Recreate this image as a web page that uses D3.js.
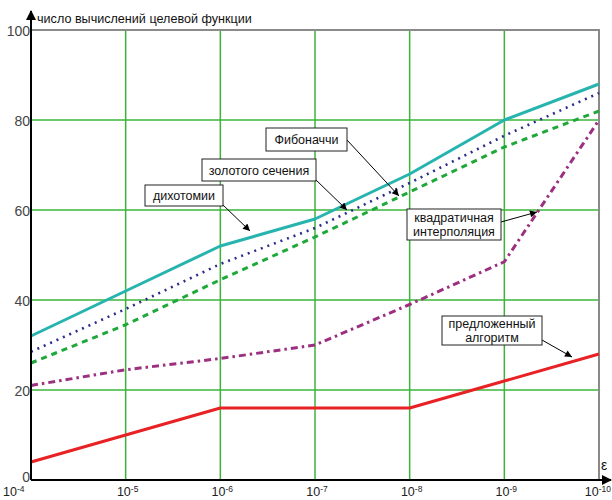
<!DOCTYPE html>
<html>
<head>
<meta charset="utf-8">
<script src="https://cdn.jsdelivr.net/npm/d3@7"></script>
<style>
  body { margin: 0; background: #fff; }
  svg { display: block; font-family: "Liberation Sans", Arial, sans-serif; }
</style>
</head>
<body>
<div id="chart"></div>
<script>
// Data (x = epsilon, 10^-4 .. 10^-10)
const exponents = ["-4", "-5", "-6", "-7", "-8", "-9", "-10"];
const yTicks = [0, 20, 40, 60, 80, 100];

const dichotomy = [32, 42, 52, 58, 68, 80, 88];
const fibonacci = [28.5, 38, 48, 56, 66, 76.5, 86];
const golden = [26, 34.5, 44.5, 54, 64, 74, 82];
const quadratic = [21, 24.5, 27, 30, 39, 48.5, 80];
const proposed = [4, 10, 16, 16, 16, 22, 28];

const series = [
  { name: "дихотомии", values: dichotomy, color: "#27b4ae", dash: null, width: 3 },
  { name: "Фибоначчи", values: fibonacci, color: "#2c2c8c", dash: "2,5", width: 2.6 },
  { name: "золотого сечения", values: golden, color: "#1fa83a", dash: "6,5", width: 3 },
  { name: "квадратичная интерполяция", values: quadratic, color: "#9c2f80", dash: "7,4,2.5,4", width: 3 },
  { name: "предложенный алгоритм", values: proposed, color: "#e82125", dash: null, width: 3 }
];

// Callout boxes (pixel layout) and arrows
const callouts = [
  { lines: ["Фибоначчи"], box: [266, 128, 81, 23], from: [347, 140], to: [399, 196] },
  { lines: ["золотого сечения"], box: [202, 159, 114, 22], from: [316, 180], to: [347, 210] },
  { lines: ["дихотомии"], box: [145, 185, 78, 21], from: [223, 205], to: [250, 231] },
  { lines: ["квадратичная", "интерполяция"], box: [407, 209, 94, 31], from: [501, 222], to: [537, 212] },
  { lines: ["предложенный", "алгоритм"], box: [442, 316, 100, 29], from: [542, 340], to: [572, 357] }
];

const W = 612, H = 500;
const plotLeft = 31, plotRight = 599, plotTop = 30, plotBottom = 480;

const svg = d3.select("#chart").append("svg")
    .attr("width", W)
    .attr("height", H);

const x = d3.scaleLinear().domain([0, exponents.length - 1]).range([plotLeft, plotRight]);
const y = d3.scaleLinear().domain([0, 100]).range([plotBottom, plotTop]);

// Grid
svg.append("g").selectAll("line")
    .data(d3.range(1, exponents.length - 1))
  .enter().append("line")
    .attr("x1", d => x(d)).attr("x2", d => x(d))
    .attr("y1", plotTop).attr("y2", plotBottom)
    .attr("stroke", "#3cb43c")
    .attr("stroke-width", 1.5);

svg.append("g").selectAll("line")
    .data(yTicks.filter(d => d > 0 && d < 100))
  .enter().append("line")
    .attr("x1", plotLeft).attr("x2", plotRight)
    .attr("y1", d => y(d)).attr("y2", d => y(d))
    .attr("stroke", "#3cb43c")
    .attr("stroke-width", 1.5);

// Grey frame top / right
svg.append("path")
    .attr("d", `M${plotLeft},${y(100)}H${plotRight}V${plotBottom}`)
    .attr("fill", "none")
    .attr("stroke", "#8a8a8a")
    .attr("stroke-width", 2);

// Arrow markers
const defs = svg.append("defs");
defs.append("marker")
    .attr("id", "axisArrow")
    .attr("viewBox", "0 0 10 10")
    .attr("refX", 9).attr("refY", 5)
    .attr("markerWidth", 5).attr("markerHeight", 5)
    .attr("markerUnits", "strokeWidth")
    .attr("orient", "auto")
  .append("path")
    .attr("d", "M0,0L10,5L0,10z")
    .attr("fill", "#000");

defs.append("marker")
    .attr("id", "calloutArrow")
    .attr("viewBox", "0 0 10 10")
    .attr("refX", 10).attr("refY", 5)
    .attr("markerWidth", 9).attr("markerHeight", 7)
    .attr("markerUnits", "userSpaceOnUse")
    .attr("orient", "auto")
  .append("path")
    .attr("d", "M0,0L10,5L0,10z")
    .attr("fill", "#000");

// Series lines
const line = d3.line()
    .x((d, i) => x(i))
    .y(d => y(d));

svg.append("g").selectAll("path")
    .data(series)
  .enter().append("path")
    .attr("d", d => line(d.values))
    .attr("fill", "none")
    .attr("stroke", d => d.color)
    .attr("stroke-width", d => d.width)
    .attr("stroke-dasharray", d => d.dash)
    .attr("stroke-linejoin", "round");

// Axes
svg.append("line")
    .attr("x1", plotLeft).attr("x2", plotLeft)
    .attr("y1", plotBottom).attr("y2", 11)
    .attr("stroke", "#000")
    .attr("stroke-width", 2)
    .attr("marker-end", "url(#axisArrow)");

svg.append("line")
    .attr("x1", plotLeft).attr("x2", 611)
    .attr("y1", plotBottom).attr("y2", plotBottom)
    .attr("stroke", "#000")
    .attr("stroke-width", 2)
    .attr("marker-end", "url(#axisArrow)");

// Y tick labels
svg.append("g").selectAll("text")
    .data(yTicks)
  .enter().append("text")
    .attr("x", plotLeft - 1)
    .attr("y", d => y(d) + (d === 0 ? -3 : 1))
    .attr("dy", "0.35em")
    .attr("text-anchor", "end")
    .attr("font-family", "'Liberation Sans Narrow', 'Arial Narrow', sans-serif")
    .attr("font-size", 14)
    .attr("fill", "#444")
    .text(d => d);

// X tick labels 10^-n (first and last kept inside the picture)
const lastIdx = exponents.length - 1;
const xl = svg.append("g").selectAll("text")
    .data(exponents)
  .enter().append("text")
    .attr("x", (d, i) => i === 0 ? 3 : i === lastIdx ? 611 : x(i) + 2)
    .attr("y", 496)
    .attr("text-anchor", (d, i) => i === 0 ? "start" : i === lastIdx ? "end" : "middle")
    .attr("font-size", 12.5)
    .attr("fill", "#222");
xl.append("tspan").text("10");
xl.append("tspan")
    .attr("dy", -4)
    .attr("font-size", 8.5)
    .text(d => d);

// Axis titles
svg.append("text")
    .attr("x", 37)
    .attr("y", 23)
    .attr("font-size", 12.6)
    .attr("fill", "#111")
    .text("число вычислений целевой функции");

svg.append("text")
    .attr("x", 601)
    .attr("y", 470)
    .attr("font-size", 14)
    .attr("fill", "#111")
    .text("ε");

// Callouts
const co = svg.append("g").selectAll("g")
    .data(callouts)
  .enter().append("g");

co.append("line")
    .attr("x1", d => d.from[0]).attr("y1", d => d.from[1])
    .attr("x2", d => d.to[0]).attr("y2", d => d.to[1])
    .attr("stroke", "#000")
    .attr("stroke-width", 1)
    .attr("marker-end", "url(#calloutArrow)");

co.append("rect")
    .attr("x", d => d.box[0]).attr("y", d => d.box[1])
    .attr("width", d => d.box[2]).attr("height", d => d.box[3])
    .attr("fill", "#fff")
    .attr("stroke", "#222")
    .attr("stroke-width", 1);

co.each(function(d) {
    const g = d3.select(this);
    const cx = d.box[0] + d.box[2] / 2;
    const n = d.lines.length;
    d.lines.forEach((t, i) => {
        g.append("text")
            .attr("x", cx)
            .attr("y", d.box[1] + d.box[3] / 2 + (i - (n - 1) / 2) * 14)
            .attr("dy", "0.36em")
            .attr("text-anchor", "middle")
            .attr("font-size", 12.5)
            .attr("fill", "#111")
            .text(t);
    });
});
</script>
</body>
</html>
